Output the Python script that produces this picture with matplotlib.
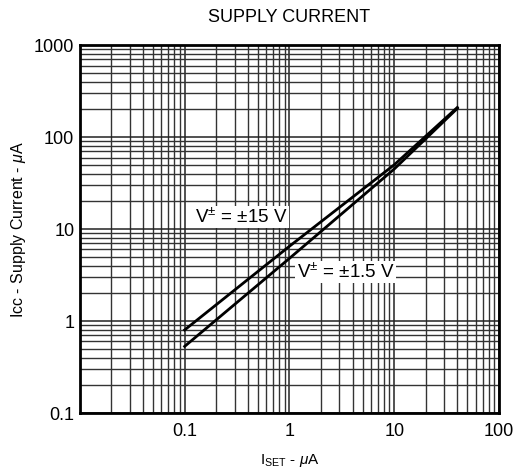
import matplotlib
matplotlib.use('Agg')
import matplotlib.pyplot as plt
from matplotlib.ticker import LogLocator, FixedLocator, NullFormatter

plt.rcParams['font.family'] = ['Liberation Sans', 'DejaVu Sans']
plt.rcParams['mathtext.fontset'] = 'custom'
plt.rcParams['mathtext.rm'] = 'Liberation Sans'
plt.rcParams['mathtext.it'] = 'Liberation Sans:italic'

iset_15 = [0.1, 1, 10, 40]
icc_15 = [0.8, 6.5, 50, 210]
iset_1p5 = [0.1, 1, 10, 40]
icc_1p5 = [0.53, 4.8, 45, 205]

x_ticks = [0.1, 1, 10, 100]
x_ticklabels = ['0.1', '1', '10', '100']
y_ticks = [0.1, 1, 10, 100, 1000]
y_ticklabels = ['0.1', '1', '10', '100', '1000']

fig = plt.figure(figsize=(5.15, 4.75), dpi=100)
ax = fig.add_axes([0.155, 0.1305, 0.814, 0.7745])

ax.set_xscale('log')
ax.set_yscale('log')
ax.set_xlim(0.01, 100)
ax.set_ylim(0.1, 1000)

ax.plot(iset_15, icc_15, color='black', lw=2, zorder=3)
ax.plot(iset_1p5, icc_1p5, color='black', lw=2, zorder=3)

ax.xaxis.set_major_locator(FixedLocator(x_ticks))
ax.set_xticklabels(x_ticklabels)
ax.yaxis.set_major_locator(FixedLocator(y_ticks))
ax.set_yticklabels(y_ticklabels)
ax.xaxis.set_minor_locator(LogLocator(base=10, subs=range(2, 10), numticks=20))
ax.yaxis.set_minor_locator(LogLocator(base=10, subs=range(2, 10), numticks=20))
ax.xaxis.set_minor_formatter(NullFormatter())
ax.yaxis.set_minor_formatter(NullFormatter())

ax.grid(True, which='major', color='#222222', lw=1.1)
ax.grid(True, which='minor', color='#333333', lw=1.0)
ax.tick_params(which='both', length=0, labelsize=13)
ax.tick_params(axis='y', pad=4)
ax.tick_params(axis='x', pad=7)
for s in ax.spines.values():
    s.set_linewidth(2)

ax.text(0.125, 13.5, 'V$^{\\pm}$ = $\\pm$15 V', fontsize=13.5, ha='left', va='center',
        bbox=dict(facecolor='white', edgecolor='none', pad=1), zorder=4)
ax.text(1.17, 3.4, 'V$^{\\pm}$ = $\\pm$1.5 V', fontsize=13.5, ha='left', va='center',
        bbox=dict(facecolor='white', edgecolor='none', pad=1), zorder=4)

ax.set_title('SUPPLY CURRENT', fontsize=13, pad=17)
ax.set_xlabel('I$_{\\rm SET}$ - $\\mu$A', fontsize=11, labelpad=9)
ax.set_ylabel('Icc - Supply Current - $\\mu$A', fontsize=11.5, labelpad=4)

fig.savefig('out.png', dpi=100)
